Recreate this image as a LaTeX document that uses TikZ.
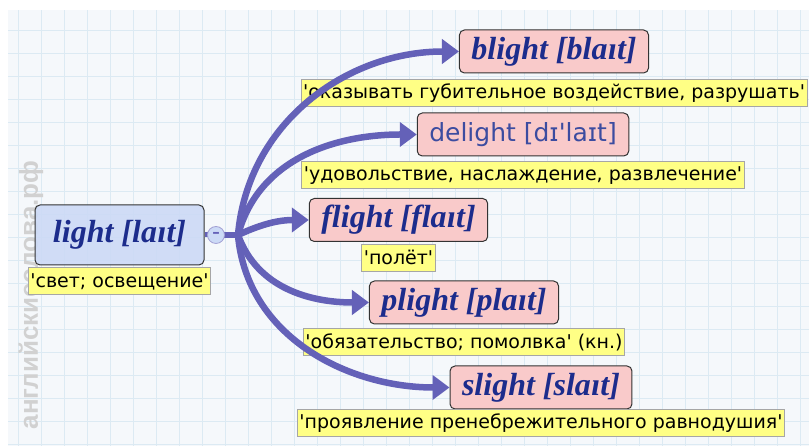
\documentclass[tikz,border=0pt]{standalone}
\usepackage{fontspec}
\usepackage{xcolor}
\usepackage{tikz}
\usetikzlibrary{arrows.meta, positioning}

\newfontfamily\headfont{Liberation Serif}
\newfontfamily\glossfont[Ligatures=TeXOff]{DejaVu Sans}
\newfontfamily\markfont{Liberation Sans}

\definecolor{inkblue}{HTML}{1C2C8C}
\definecolor{softink}{HTML}{3C4CA0}
\definecolor{rootfill}{HTML}{CCDAF6}
\definecolor{wordfill}{HTML}{F9CACA}
\definecolor{glossfill}{HTML}{FFFF85}
\definecolor{trunk}{HTML}{6461B8}
\definecolor{paper}{HTML}{F5F8FB}
\definecolor{gridline}{HTML}{DCEAF3}

\begin{document}
\begin{tikzpicture}[
    x=1pt, y=1pt,
    headword/.style={rectangle, draw=black!80, line width=1pt, fill=wordfill, rounded corners=5pt, minimum height=43pt, inner xsep=12pt, inner ysep=0pt, text=inkblue, font=\headfont\bfseries\itshape\fontsize{32}{34}\selectfont},
    plainword/.style={headword, inner xsep=12pt, text=softink, font=\glossfont\fontsize{25}{28}\selectfont},
    gloss/.style={rectangle, draw=black!35, line width=0.8pt, fill=glossfill, minimum height=27pt, inner xsep=2pt, inner ysep=2pt, font=\glossfont\fontsize{19}{21}\selectfont},
    knobstyle/.style={circle, draw=trunk!60, line width=0.8pt, fill=rootfill, minimum size=17pt, inner sep=0pt, text=trunk, font=\glossfont\bfseries\fontsize{15}{15}\selectfont},
    branch/.style={line width=6.5pt, draw=trunk, -{Triangle[length=17pt, width=24pt]}}
]
    \useasboundingbox (0,0) rectangle (809,446);
    % Paper
    \fill[paper] (8,0) rectangle (809,436);
    \foreach \gx in {18,41,...,800} \draw[gridline, line width=0.8pt] (\gx,0) -- (\gx,436);
    \foreach \gy in {2,25,...,420} \draw[gridline, line width=0.8pt] (8,\gy) -- (809,\gy);
    \node (mark) [rotate=90, text=black!18, font=\markfont\bfseries\fontsize{26}{28}\selectfont] at (31,151) {английскиеслова.рф};

    % Nodes
    \node (root) [headword, fill=rootfill, fill opacity=0.9, text opacity=1, minimum width=169pt, minimum height=60pt] at (119.5,211) {light [laɪt]};
    \node (root_gloss) [gloss, below=2pt of root] {'свет; освещение'};
    \coordinate (hub) at (238,211);

    % Children
    \node (blight) [headword] at (554,394.5) {blight [blaɪt]};
    \node (blight_gloss) [gloss, below=6pt of blight] {'оказывать губительное воздействие, разрушать'};
    \node (delight) [plainword] at (523,311.5) {delight [dɪ'laɪt]};
    \node (delight_gloss) [gloss, below=5pt of delight] {'удовольствие, наслаждение, развлечение'};
    \node (flight) [headword] at (398.5,226) {flight [flaɪt]};
    \node (flight_gloss) [gloss, below=2pt of flight] {'полёт'};
    \node (plight) [headword] at (464,143.5) {plight [plaɪt]};
    \node (plight_gloss) [gloss, below=4pt of plight] {'обязательство; помолвка' (кн.)};
    \node (slight) [headword] at (541,58.5) {slight [slaɪt]};
    \node (slight_gloss) [gloss, below=0pt of slight] {'проявление пренебрежительного равнодушия'};

    % Arrows
    \draw[trunk, line width=5pt] (root.east) -- (216,211) coordinate (knob_pos);
    \draw[trunk, line width=6.5pt] (knob_pos) -- (hub);
    \draw[branch] (hub) to[out=85, in=180] (blight.west);
    \draw[branch] (hub) to[out=75, in=180] (delight.west);
    \draw[branch] (hub) to[out=25, in=180] (flight.west);
    \draw[branch] (hub) to[out=-70, in=180] (plight.west);
    \draw[branch] (hub) to[out=-85, in=180] (slight.west);
    \node (knob) [knobstyle] at (knob_pos) {–};
\end{tikzpicture}
\end{document}
